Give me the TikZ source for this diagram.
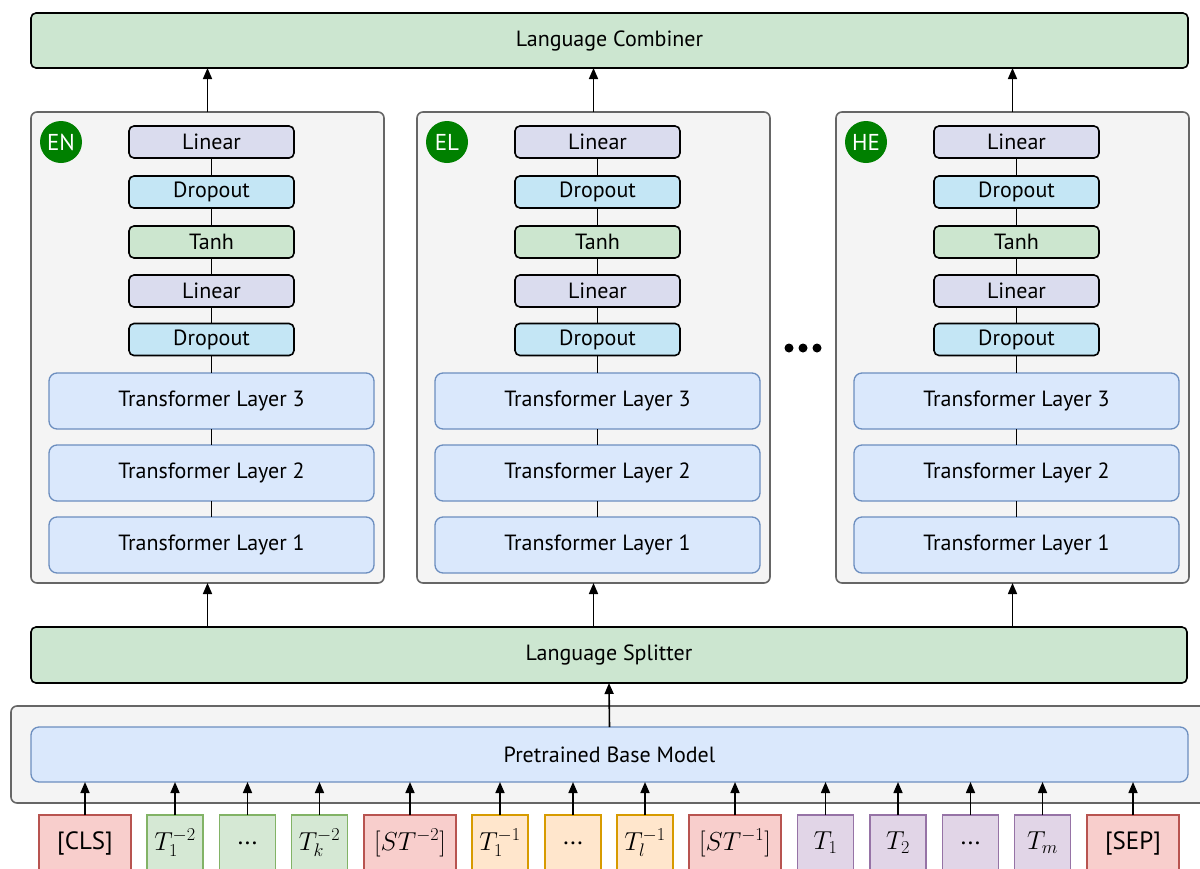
\documentclass[tikz,border=0pt]{standalone}
\usepackage{fix-cm}
\usepackage{fontspec}
\setmainfont{PT Sans}
\usetikzlibrary{arrows.meta,calc}
\definecolor{combg}{HTML}{CCE6D0}
\definecolor{linf}{HTML}{DADCEE}
\definecolor{dropf}{HTML}{C4E6F5}
\definecolor{tanhf}{HTML}{CCE6CF}
\definecolor{panelf}{HTML}{F4F4F4}
\definecolor{panels}{HTML}{666666}
\definecolor{tff}{HTML}{DAE8FC}
\definecolor{tfs}{HTML}{6C8EBF}
\definecolor{redf}{HTML}{F8CECC}
\definecolor{reds}{HTML}{B85450}
\definecolor{grnf}{HTML}{D5E8D4}
\definecolor{grns}{HTML}{82B366}
\definecolor{orf}{HTML}{FFE6CC}
\definecolor{ors}{HTML}{D79B00}
\definecolor{purf}{HTML}{E1D5E7}
\definecolor{purs}{HTML}{9673A6}
\definecolor{badgec}{HTML}{008000}
\tikzset{
  every node/.style={font=\fontsize{22}{26}\selectfont, inner sep=0pt, outer sep=0pt},
  bigbox/.style={draw=black, line width=1.6pt, rounded corners=5pt, fill=combg, minimum width=1157pt, minimum height=55pt},
  panel/.style={draw=panels, line width=1.6pt, rounded corners=6pt, fill=panelf, minimum width=353pt, minimum height=471pt},
  smallbox/.style={draw=black, line width=1.6pt, rounded corners=5pt, minimum width=165pt, minimum height=32pt},
  linbox/.style={smallbox, fill=linf},
  dropbox/.style={smallbox, fill=dropf},
  tanhbox/.style={smallbox, fill=tanhf},
  tfbox/.style={draw=tfs, line width=1.3pt, rounded corners=8pt, fill=tff, minimum width=325pt, minimum height=56pt},
  badge/.style={circle, fill=badgec, minimum size=42pt, text=white, font=\fontsize{23}{26}\selectfont},
  tok/.style={line width=1.4pt, minimum height=56pt, font=\fontsize{25}{28}\selectfont},
  mtok/.style={font=\fontsize{26}{30}\selectfont},
  redtok/.style={tok, draw=reds, fill=redf, minimum width=92pt},
  grntok/.style={tok, draw=grns, fill=grnf, minimum width=56pt},
  ortok/.style={tok, draw=ors, fill=orf, minimum width=56pt},
  purtok/.style={tok, draw=purs, fill=purf, minimum width=56pt},
  arr/.style={line width=1.6pt, -{Triangle[length=11pt,width=9pt]}},
  link/.style={line width=1.2pt},
  dot/.style={circle, fill=black, minimum size=9pt}
}
\begin{document}
\begin{tikzpicture}[x=1pt,y=-1pt]
\useasboundingbox (0,0) rectangle (1200,868);
% top combiner
\node[bigbox] (comb) at (609.5,40.5) {Language Combiner};
% panels
\foreach \p/\cx/\lab in {en/207.5/EN, el/593.5/EL, he/1012.5/HE}{
  \node[panel] (\p) at (\cx,347.5) {};
  \node[badge] (\p badge) at ($(\p.north west)+(30,30)$) {\lab};
  \node[linbox]  (\p lin1) at (\cx+4,142) {Linear};
  \node[dropbox] (\p drop1) at (\cx+4,192) {Dropout};
  \node[tanhbox] (\p tanh) at (\cx+4,242) {Tanh};
  \node[linbox]  (\p lin2) at (\cx+4,291) {Linear};
  \node[dropbox] (\p drop2) at (\cx+4,339.5) {Dropout};
  \node[tfbox] (\p tf3) at (\cx+4,401) {Transformer Layer 3};
  \node[tfbox] (\p tf2) at (\cx+4,473) {Transformer Layer 2};
  \node[tfbox] (\p tf1) at (\cx+4,545) {Transformer Layer 1};
  \draw[link] (\p lin1) -- (\p drop1);
  \draw[link] (\p drop1) -- (\p tanh);
  \draw[link] (\p tanh) -- (\p lin2);
  \draw[link] (\p lin2) -- (\p drop2);
  \draw[link] (\p drop2) -- (\p tf3);
  \draw[link] (\p tf3) -- (\p tf2);
  \draw[link] (\p tf2) -- (\p tf1);
  \draw[arr] (\p.north) -- (\p.north |- comb.south);
}
% ellipsis
\node[dot] (d1) at (789,348) {};
\node[dot] (d2) at (803,348) {};
\node[dot] (d3) at (817,348) {};
% splitter
\node[bigbox, minimum width=1156pt, minimum height=56pt] (split) at (609,655) {Language Splitter};
\foreach \p in {en,el,he}{
  \draw[arr] (\p.south |- split.north) -- (\p.south);
}
% base model
\node[draw=panels, line width=1.6pt, rounded corners=6pt, fill=panelf, minimum width=1204pt, minimum height=97pt] (basebg) at (613,754.5) {};
\node[tfbox, minimum width=1157pt, minimum height=55pt] (base) at (609.5,754.5) {Pretrained Base Model};
\draw[arr] (base.north) -- (split.south);
% tokens
\node[redtok] (t1) at (85,843) {[CLS]};
\node[grntok, mtok] (t2) at (175,843) {$T_1^{-2}$};
\node[grntok] (t3) at (247.5,843) {...};
\node[grntok, mtok] (t4) at (319.5,843) {$T_k^{-2}$};
\node[redtok, mtok] (t5) at (410,843) {$[ST^{-2}]$};
\node[ortok, mtok] (t6) at (500,843) {$T_1^{-1}$};
\node[ortok] (t7) at (573,843) {...};
\node[ortok, mtok] (t8) at (645,843) {$T_l^{-1}$};
\node[redtok, mtok] (t9) at (735,843) {$[ST^{-1}]$};
\node[purtok, mtok] (t10) at (825.5,843) {$T_1$};
\node[purtok, mtok] (t11) at (898,843) {$T_2$};
\node[purtok] (t12) at (970.5,843) {...};
\node[purtok, mtok] (t13) at (1042.5,843) {$T_m$};
\node[redtok] (t14) at (1133,843) {[SEP]};
\foreach \t in {t1,t2,t3,t4,t5,t6,t7,t8,t9,t10,t11,t12,t13,t14}{
  \draw[arr] (\t.north) -- (\t.north |- base.south);
}
\end{tikzpicture}
\end{document}
